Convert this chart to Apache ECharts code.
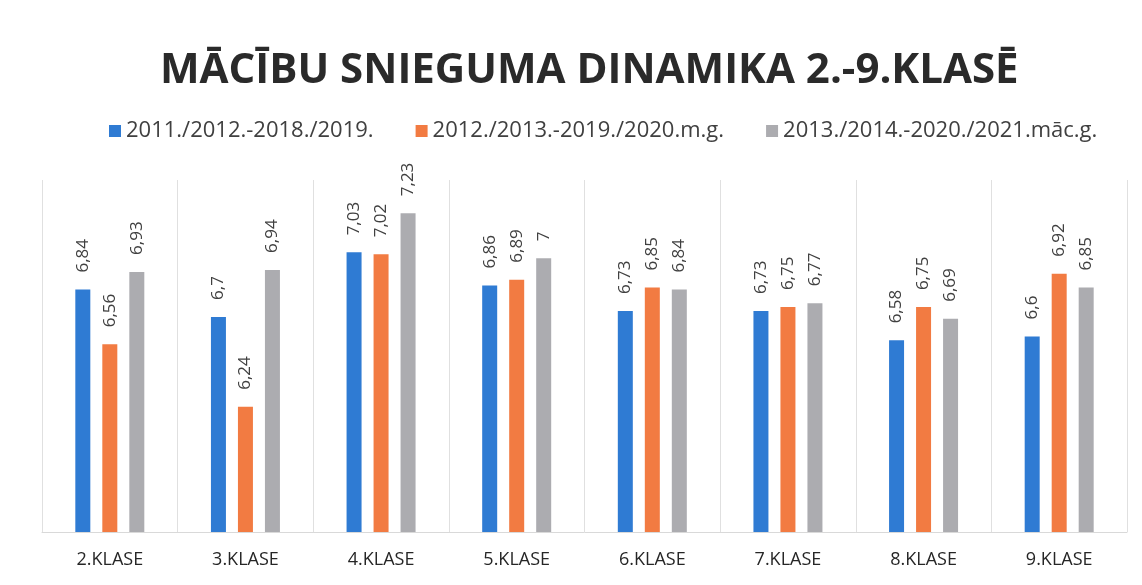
<!DOCTYPE html>
<html>
<head>
<meta charset="utf-8">
<script src="https://cdn.jsdelivr.net/npm/echarts@6/dist/echarts.min.js"></script>
<style>
  html, body { margin: 0; padding: 0; background: #fff; }
  #chart { width: 1142px; height: 585px; }
</style>
</head>
<body>
<div id="chart"></div>
<script>
const categories = ["2.KLASE", "3.KLASE", "4.KLASE", "5.KLASE", "6.KLASE", "7.KLASE", "8.KLASE", "9.KLASE"];
const seriesNames = ["2011./2012.-2018./2019.", "2012./2013.-2019./2020.m.g.", "2013./2014.-2020./2021.māc.g."];
const values2019 = [6.84, 6.7, 7.03, 6.86, 6.73, 6.73, 6.58, 6.6];
const values2020 = [6.56, 6.24, 7.02, 6.89, 6.85, 6.75, 6.75, 6.92];
const values2021 = [6.93, 6.94, 7.23, 7, 6.84, 6.77, 6.69, 6.85];
const colors = ["#2f7bd3", "#f27b42", "#acacb0"];

const chart = echarts.init(document.getElementById("chart"));

function barSeries(name, data, color) {
  return {
    name: name,
    type: "bar",
    data: data,
    barWidth: 15,
    barGap: "80%",
    itemStyle: { color: color },
    label: {
      show: true,
      position: "top",
      rotate: 90,
      align: "left",
      verticalAlign: "middle",
      distance: 17,
      color: "#404040",
      fontFamily: "Open Sans",
      fontSize: 17,
      formatter: function (p) {
        return String(p.value).replace(".", ",");
      },
    },
  };
}

chart.setOption({
  backgroundColor: "#ffffff",
  animation: false,
  title: {
    text: "MĀCĪBU SNIEGUMA DINAMIKA 2.-9.KLASĒ",
    left: 155,
    top: 45,
    textStyle: {
      fontFamily: "Open Sans",
      fontWeight: "bold",
      fontSize: 42,
      color: "#2a2a2a",
    },
  },
  legend: {
    top: 115,
    left: 104,
    itemWidth: 12,
    itemHeight: 12,
    itemGap: 42,
    icon: "rect",
    textStyle: {
      fontFamily: "Open Sans",
      fontSize: 22,
      color: "#404040",
    },
    data: seriesNames,
  },
  grid: {
    left: 42,
    right: 15,
    top: 180,
    bottom: 53,
  },
  xAxis: {
    type: "category",
    data: categories,
    axisTick: { show: false },
    axisLine: { lineStyle: { color: "#d9d9d9" } },
    splitLine: { show: true, lineStyle: { color: "#e0e0e0" } },
    axisLabel: {
      margin: 19,
      fontFamily: "Open Sans",
      fontSize: 18,
      color: "#262626",
    },
  },
  yAxis: {
    type: "value",
    min: 5.6,
    max: 7.4,
    interval: 0.2,
    show: false,
  },
  series: [
    barSeries(seriesNames[0], values2019, colors[0]),
    barSeries(seriesNames[1], values2020, colors[1]),
    barSeries(seriesNames[2], values2021, colors[2]),
  ],
});

window.onresize = function () {
  chart.resize();
};
</script>
</body>
</html>
